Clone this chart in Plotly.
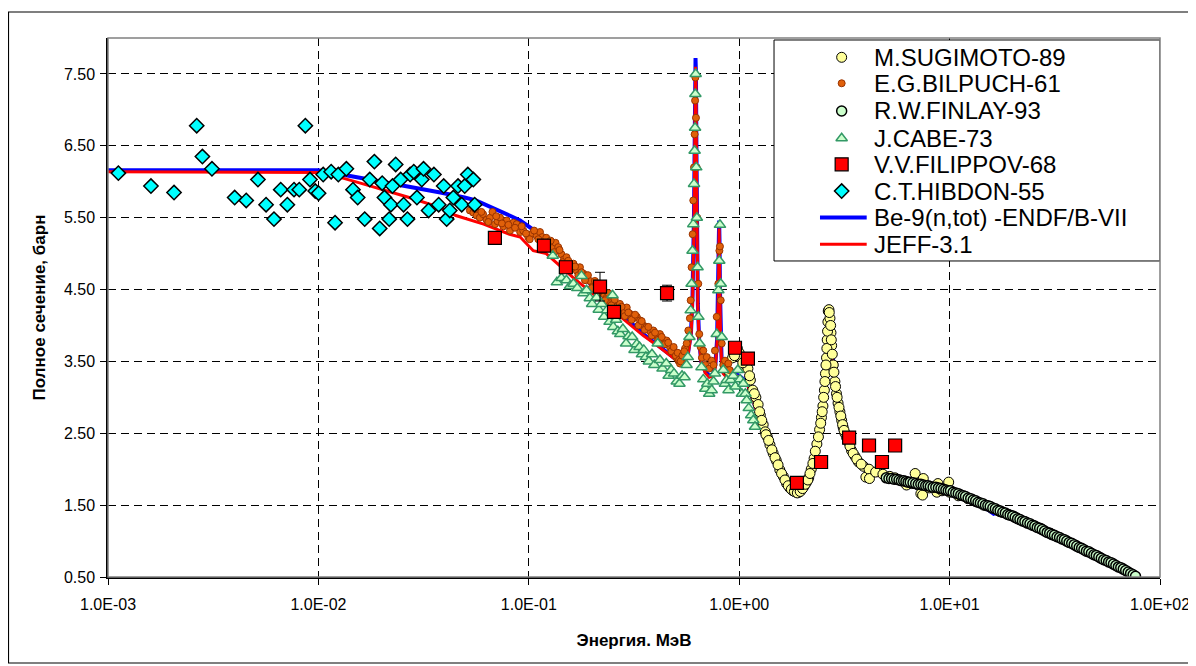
import plotly.graph_objects as go

# ---------------- data ----------------
sug_E = [0.90, 0.93, 0.96, 0.98, 1.00, 1.02, 1.05, 1.08, 1.10, 1.13, 1.16, 1.20, 1.23, 1.26, 1.30,
         1.33, 1.36, 1.40, 1.45, 1.50, 1.56, 1.62, 1.68, 1.74, 1.80, 1.86, 1.92, 1.97, 2.03, 2.09,
         2.14, 2.20, 2.27, 2.34, 2.41, 2.46, 2.50, 2.54, 2.57, 2.60, 2.62, 2.64, 2.65, 2.67, 2.70,
         2.73, 2.75, 2.80, 2.85, 2.90, 2.95, 3.01, 3.07, 3.12, 3.18, 3.30, 3.42, 3.55, 3.69, 3.90,
         4.00, 4.14, 4.16, 4.45, 4.82, 5.2, 5.5, 5.81, 6.2, 6.24, 6.6, 6.86, 7.07, 7.3, 7.44, 7.5,
         8.0, 8.51, 8.7, 8.8, 9.2, 9.9, 10.0, 11.0, 12.2, 13.3, 14.5, 15.8, 17.3, 19.0, 20.9, 22.8,
         24.9, 27.3, 30.0,
         0.95, 1.04, 1.12, 1.18, 1.25, 1.28, 1.34, 1.38, 1.43, 1.48, 1.53, 1.59, 1.65, 1.71, 1.77,
         1.83, 1.89, 1.95, 2.00, 2.06, 2.12, 2.17, 2.24, 2.30, 2.38, 2.44, 2.48, 2.52, 2.555, 2.585,
         2.61, 2.63, 2.68, 2.72, 2.74, 2.77, 2.82, 2.87, 2.92, 2.98, 3.04, 3.10, 3.15, 3.24, 3.36,
         3.48, 3.62, 3.80]
sug_S = [3.35, 3.55, 3.62, 3.68, 3.62, 3.55, 3.42, 3.45, 3.40, 3.24, 3.10, 3.00, 2.90, 2.75, 2.62,
         2.52, 2.45, 2.34, 2.22, 2.12, 1.99, 1.90, 1.80, 1.74, 1.70, 1.68, 1.68, 1.71, 1.76, 1.82,
         1.88, 2.00, 2.15, 2.35, 2.55, 2.72, 2.88, 3.10, 3.33, 3.55, 3.80, 4.05, 4.20, 4.22, 4.10,
         3.90, 3.72, 3.45, 3.22, 3.05, 2.92, 2.80, 2.68, 2.58, 2.50, 2.38, 2.26, 2.18, 2.10, 2.04,
         1.89, 2.00, 1.87, 1.96, 1.93, 1.90, 1.88, 1.85, 1.83, 1.78, 1.80, 1.94, 1.78, 1.66, 1.64, 1.87,
         1.74, 1.73, 1.68, 1.80, 1.70, 1.82, 1.68, 1.63, 1.59, 1.55, 1.50, 1.46, 1.41, 1.37, 1.32, 1.27,
         1.22, 1.17, 1.11,
         3.58, 3.48, 3.30, 3.05, 2.80, 2.68, 2.48, 2.40, 2.27, 2.16, 2.06, 1.94, 1.85, 1.77, 1.72,
         1.69, 1.67, 1.69, 1.73, 1.79, 1.85, 1.94, 2.08, 2.25, 2.45, 2.64, 2.80, 3.00, 3.22, 3.45,
         3.68, 3.92, 4.18, 4.00, 3.80, 3.60, 3.35, 3.15, 3.00, 2.86, 2.74, 2.62, 2.54, 2.44, 2.32,
         2.22, 2.14, 2.07]

bil_E = [0.0525, 0.0545, 0.0565, 0.0585, 0.0606, 0.063, 0.0654, 0.0672, 0.0691, 0.071, 0.0730,
         0.0757, 0.0785, 0.0814, 0.0845, 0.0876, 0.091, 0.0941, 0.0994, 0.104, 0.109, 0.113, 0.116,
         0.119, 0.124, 0.130, 0.134, 0.138, 0.143, 0.147, 0.151, 0.157, 0.163, 0.169, 0.175, 0.182,
         0.188, 0.195, 0.203, 0.210, 0.218, 0.226, 0.235, 0.243, 0.252, 0.261, 0.271, 0.281, 0.292,
         0.303, 0.314, 0.326, 0.338, 0.350, 0.363, 0.377, 0.391, 0.405, 0.420, 0.436, 0.452, 0.469,
         0.482, 0.495, 0.505, 0.514, 0.523, 0.532, 0.542, 0.553, 0.563, 0.573, 0.583, 0.588, 0.594,
         0.601, 0.605, 0.610, 0.614, 0.617, 0.619, 0.623, 0.628, 0.632, 0.639, 0.646, 0.656, 0.665,
         0.675, 0.690, 0.701, 0.720, 0.740, 0.755, 0.767, 0.782, 0.796, 0.805, 0.810, 0.817, 0.826,
         0.840, 0.856, 0.870, 0.888, 0.900,
         0.0555, 0.0595, 0.0642, 0.0700, 0.0745, 0.0800, 0.0860, 0.0925, 0.097, 0.101, 0.106, 0.111,
         0.121, 0.127, 0.132, 0.140, 0.145, 0.154, 0.160, 0.166, 0.172, 0.178, 0.185, 0.191, 0.199,
         0.206, 0.214, 0.222, 0.230, 0.239, 0.247, 0.256, 0.266, 0.276, 0.286, 0.297, 0.308, 0.320,
         0.332, 0.344, 0.356, 0.370, 0.384, 0.398, 0.412, 0.428, 0.444, 0.460, 0.476, 0.488, 0.500,
         0.510, 0.518, 0.527, 0.537, 0.548]
bil_S = [5.60, 5.57, 5.53, 5.50, 5.55, 5.47, 5.50, 5.58, 5.41, 5.45, 5.50,
         5.38, 5.46, 5.32, 5.43, 5.41, 5.30, 5.32, 5.23, 5.28, 5.25, 5.30, 5.23,
         5.16, 5.12, 5.08, 5.15, 5.09, 4.99, 4.92, 4.95, 4.86, 4.86, 4.76, 4.81, 4.72,
         4.66, 4.62, 4.55, 4.58, 4.49, 4.44, 4.39, 4.33, 4.35, 4.26, 4.30, 4.20, 4.25,
         4.16, 4.10, 4.12, 4.07, 4.00, 3.98, 3.92, 3.93, 3.85, 3.88, 3.80, 3.79, 3.70,
         3.66, 3.63, 3.55, 3.51, 3.47, 3.55, 3.61, 3.68, 3.75, 3.93, 4.10, 4.35, 4.81,
         5.27, 5.74, 6.20, 6.66, 7.13, 7.45, 6.89, 6.20, 5.50, 4.58, 3.88, 3.70, 3.55,
         3.65, 3.45, 3.56, 3.40, 3.51, 3.45, 3.65, 4.12, 4.58, 5.04, 5.10, 4.35, 3.75,
         3.45, 3.51, 3.40, 3.47, 3.38,
         5.62, 5.58, 5.44, 5.52, 5.42, 5.40, 5.36, 5.38, 5.28, 5.20, 5.32, 5.20,
         5.22, 5.18, 5.02, 5.05, 4.88, 4.90, 4.80, 4.82, 4.70, 4.74, 4.63, 4.70, 4.52,
         4.62, 4.45, 4.52, 4.35, 4.45, 4.28, 4.36, 4.20, 4.26, 4.13, 4.18, 4.08, 4.15,
         4.00, 4.06, 3.94, 3.98, 3.86, 3.90, 3.80, 3.84, 3.74, 3.76, 3.64, 3.70, 3.58,
         3.62, 3.52, 3.50, 3.58, 3.64]

fin_E = [5.0, 5.15, 5.3, 5.45, 5.6, 5.75, 5.9, 6.05, 6.2, 6.35, 6.5, 6.7, 6.9, 7.1, 7.3, 7.5, 7.7,
         7.9, 8.1, 8.35, 8.6, 8.85, 9.1, 9.35, 9.6, 9.85, 10.1, 10.4, 10.7, 11.0, 11.3, 11.6, 11.9,
         12.25, 12.6, 12.95, 13.3, 13.65, 14.0, 14.4, 14.8, 15.2, 15.6, 16.05, 16.5, 16.95, 17.4,
         17.9, 18.4, 18.9, 19.4, 19.95, 20.5, 21.05, 21.6, 22.2, 22.8, 23.45, 24.1, 24.75, 25.4,
         26.1, 26.8, 27.55, 28.3, 29.1, 29.9, 30.7, 31.5, 32.4, 33.3, 34.2, 35.1, 36.05, 37.0, 38.05,
         39.1, 40.2, 41.3, 42.4, 43.5, 44.7, 45.9, 47.2, 48.5, 49.8, 51.2, 52.6, 54.0, 55.5, 57.0,
         58.5, 60.1, 61.7, 63.4, 65.1, 66.9, 68.7, 70.6, 72.5, 74.5, 76.5]
fin_S = [1.88, 1.87, 1.87, 1.86, 1.86, 1.85, 1.84, 1.84, 1.83, 1.82, 1.82, 1.81, 1.80, 1.79, 1.79,
         1.78, 1.77, 1.77, 1.76, 1.75, 1.75, 1.74, 1.73, 1.72, 1.71, 1.70, 1.70, 1.68, 1.67, 1.66,
         1.64, 1.63, 1.62, 1.60, 1.59, 1.57, 1.56, 1.54, 1.53, 1.52, 1.50, 1.49, 1.48, 1.46, 1.45,
         1.43, 1.42, 1.40, 1.39, 1.37, 1.36, 1.35, 1.33, 1.31, 1.30, 1.28, 1.27, 1.25, 1.24, 1.22,
         1.21, 1.19, 1.18, 1.16, 1.14, 1.12, 1.11, 1.09, 1.08, 1.06, 1.05, 1.03, 1.02, 1.00, 0.98,
         0.97, 0.95, 0.93, 0.91, 0.90, 0.88, 0.86, 0.85, 0.83, 0.81, 0.80, 0.78, 0.76, 0.74, 0.73,
         0.71, 0.70, 0.68, 0.66, 0.64, 0.63, 0.61, 0.59, 0.57, 0.55, 0.53, 0.51]

cab_E = [0.130, 0.136, 0.143, 0.151, 0.157, 0.163, 0.170, 0.178, 0.182, 0.188, 0.195, 0.200, 0.210,
         0.215, 0.222, 0.228, 0.235, 0.242, 0.250, 0.252, 0.260, 0.265, 0.272, 0.280, 0.290, 0.298,
         0.310, 0.318, 0.326, 0.336, 0.345, 0.352, 0.360, 0.372, 0.385, 0.395, 0.410, 0.420, 0.432,
         0.450, 0.462, 0.475, 0.490, 0.505, 0.520, 0.535, 0.550, 0.562, 0.570, 0.580, 0.588, 0.594,
         0.600, 0.605, 0.610, 0.614, 0.617, 0.619, 0.621, 0.625, 0.629, 0.634, 0.640, 0.648, 0.662,
         0.675, 0.690, 0.705, 0.720, 0.740, 0.755, 0.767, 0.782, 0.796, 0.804, 0.810, 0.817, 0.826,
         0.840, 0.855, 0.872, 0.890, 0.910, 0.937, 0.960, 0.985, 1.009, 1.030, 1.046, 1.070, 1.085,
         1.110, 1.140, 1.167, 1.189]
cab_S = [4.97, 4.60, 4.66, 4.63, 4.55, 4.58, 4.52, 4.69, 4.45, 4.49, 4.38, 4.30, 4.39,
         4.22, 4.30, 4.12, 4.21, 4.05, 4.42, 3.98, 4.08, 3.92, 3.88, 3.95, 3.75, 3.85,
         3.84, 3.66, 3.74, 3.70, 3.60, 3.66, 3.56, 3.50, 3.60, 3.45, 3.75, 3.52, 3.40,
         3.47, 3.30, 3.38, 3.33, 3.22, 3.19, 3.30, 3.28, 3.45, 3.56, 3.84, 4.21, 4.58,
         5.04, 5.41, 5.97, 6.43, 6.75, 7.22, 7.50, 6.20, 5.50, 4.81, 4.12, 3.75, 3.42,
         3.25, 3.12, 3.19, 3.05, 3.10, 3.22, 3.33, 3.88, 4.49, 4.90, 5.40, 4.58, 3.84,
         3.38, 3.19, 3.24, 3.10, 3.24, 3.30, 3.15, 3.38, 3.25, 3.05, 3.19, 3.05, 2.96,
         2.85, 2.75, 2.68, 2.59]

fil_E = [0.069, 0.118, 0.150, 0.218, 0.254, 0.454, 0.955, 1.10, 1.88, 2.45, 3.33, 4.14, 4.77, 5.51]
fil_S = [5.22, 5.11, 4.81, 4.54, 4.19, 4.45, 3.69, 3.54, 1.81, 2.10, 2.44, 2.33, 2.10, 2.33]
fil_err = [0.05, 0.05, 0.05, 0.20, 0.05, 0.11, 0.05, 0.05, 0.05, 0.05, 0.08, 0.05, 0.05, 0.05]

hib_E = [0.00112, 0.00160, 0.00206, 0.00264, 0.00281, 0.00312, 0.0040, 0.00454, 0.00516, 0.00564,
         0.00615, 0.00662, 0.00712, 0.00766, 0.00811, 0.00867, 0.00912, 0.00966, 0.01002, 0.01054,
         0.0115, 0.0120, 0.01244, 0.01358, 0.01460, 0.01537, 0.01660, 0.01754, 0.01845, 0.01956,
         0.0201, 0.0206, 0.0217, 0.0221, 0.0225, 0.0233, 0.0246, 0.0254, 0.0265, 0.0273, 0.0284,
         0.0294, 0.0310, 0.0316, 0.0334, 0.0354, 0.0373, 0.0394, 0.0407, 0.0421, 0.0438, 0.0461,
         0.0480, 0.0496, 0.0513, 0.0545, 0.0553]
hib_S = [6.12, 5.94, 5.85, 6.78, 6.35, 6.18, 5.78, 5.74, 6.03, 5.68,
         5.48, 5.89, 5.68, 5.89, 5.89, 6.78, 6.03, 5.87, 5.84, 6.10,
         6.14, 5.43, 6.10, 6.18, 5.89, 5.78, 5.48, 6.03, 6.28, 5.35,
         5.98, 5.78, 5.48, 5.68, 5.94, 6.24, 6.03, 5.68, 5.48, 6.10, 6.14,
         5.78, 6.03, 6.18, 5.60, 6.10, 5.68, 5.94, 5.48, 5.60, 5.78, 5.94,
         5.68, 5.94, 6.10, 6.03, 5.68]

endf_E = [0.001, 0.01, 0.0183, 0.0315, 0.038, 0.0495, 0.056, 0.081, 0.091, 0.109, 0.13, 0.16, 0.2,
          0.25, 0.3, 0.35, 0.4, 0.45, 0.5, 0.54, 0.57, 0.59, 0.60, 0.61, 0.616, 0.62, 0.623, 0.626,
          0.63, 0.636, 0.645, 0.66, 0.69, 0.72, 0.75, 0.77, 0.785, 0.797, 0.803, 0.806, 0.81, 0.815,
          0.825, 0.84, 0.87, 0.92, 0.97, 1.0, 1.05, 1.1, 1.15, 1.2, 1.25, 1.3, 1.4, 1.5, 1.56, 1.7,
          1.8, 1.9, 2.0, 2.1, 2.2, 2.3, 2.4, 2.5, 2.58, 2.63, 2.67, 2.71, 2.76, 2.85, 2.95, 3.1,
          3.3, 3.5, 3.8, 4.2, 4.6, 5.0, 6.0, 7.0, 8.0, 9.0, 10.0, 12.0, 14.0, 15.5, 16.2, 17.0,
          18.0, 19.6]
endf_S = [6.16, 6.16, 6.02, 5.90, 5.85, 5.78, 5.74, 5.53, 5.46, 5.30, 5.10, 4.85, 4.55,
          4.28, 4.05, 3.88, 3.75, 3.63, 3.53, 3.50, 3.60, 3.90, 4.40, 5.60, 6.80, 7.72, 7.50, 6.50,
          5.20, 4.30, 3.80, 3.50, 3.36, 3.30, 3.32, 3.45, 3.80, 4.60, 5.46, 5.20, 4.50, 3.90,
          3.50, 3.35, 3.30, 3.30, 3.32, 3.30, 3.25, 3.18, 3.02, 2.85, 2.63, 2.50, 2.33, 2.12, 2.03, 1.78,
          1.72, 1.68, 1.70, 1.78, 1.95, 2.18, 2.48, 2.85, 3.40, 3.90, 4.20, 4.05, 3.65, 3.15, 2.85, 2.55,
          2.32, 2.17, 2.05, 1.97, 1.92, 1.88, 1.83, 1.79, 1.75, 1.71, 1.68, 1.58, 1.50, 1.42, 1.38, 1.40,
          1.38, 1.33]

jeff_E = [0.001, 0.0105, 0.0163, 0.027, 0.038, 0.045, 0.061, 0.073, 0.081, 0.091, 0.105, 0.121,
          0.162, 0.2, 0.25, 0.3, 0.35, 0.4, 0.45, 0.5, 0.54, 0.57, 0.59, 0.60, 0.61, 0.616, 0.62,
          0.623, 0.626, 0.63, 0.636, 0.645, 0.66, 0.69, 0.72, 0.75, 0.77, 0.785, 0.797, 0.803, 0.806,
          0.81, 0.815, 0.825, 0.84, 0.87, 0.92, 0.97, 1.0, 1.05, 1.1, 1.15, 1.2, 1.25, 1.3, 1.4, 1.5,
          1.56, 1.7, 1.8, 1.9, 2.0, 2.1, 2.2, 2.3, 2.4, 2.5, 2.58, 2.63, 2.67, 2.71, 2.76, 2.85, 2.95,
          3.1, 3.3, 3.5, 3.8, 4.2, 4.6, 5.0, 6.0, 7.0, 8.0, 9.0, 10.0, 12.0, 14.0, 16.0, 18.0, 19.6]
jeff_S = [6.14, 6.13, 5.97, 5.78, 5.64, 5.53, 5.41, 5.32, 5.27, 5.23, 5.04, 5.00,
          4.67, 4.45, 4.22, 4.02, 3.86, 3.74, 3.62, 3.52, 3.48, 3.58, 3.85, 4.30, 5.40, 6.60, 7.60,
          7.40, 6.40, 5.10, 4.25, 3.78, 3.48, 3.34, 3.28, 3.30, 3.42, 3.75, 4.50, 5.35, 5.15,
          4.45, 3.85, 3.48, 3.33, 3.28, 3.28, 3.30, 3.28, 3.23, 3.16, 3.00, 2.84, 2.62, 2.49, 2.32, 2.11,
          2.02, 1.77, 1.71, 1.67, 1.69, 1.77, 1.94, 2.17, 2.47, 2.84, 3.38, 3.88, 4.18, 4.03, 3.63, 3.14,
          2.84, 2.54, 2.31, 2.16, 2.04, 1.96, 1.91, 1.87, 1.82, 1.78, 1.74, 1.70, 1.67, 1.57, 1.49,
          1.43, 1.38, 1.33]

x_ticks = [0.001, 0.01, 0.1, 1, 10, 100]
x_tick_labels = ["1.0E-03", "1.0E-02", "1.0E-01", "1.0E+00", "1.0E+01", "1.0E+02"]
y_ticks = [0.5, 1.5, 2.5, 3.5, 4.5, 5.5, 6.5, 7.5]
y_tick_labels = ["0.50", "1.50", "2.50", "3.50", "4.50", "5.50", "6.50", "7.50"]

legend_names = ["M.SUGIMOTO-89", "E.G.BILPUCH-61", "R.W.FINLAY-93", "J.CABE-73",
                "V.V.FILIPPOV-68", "C.T.HIBDON-55", "Be-9(n,tot) -ENDF/B-VII", "JEFF-3.1"]

FONT = "Liberation Sans, Arial, sans-serif"

# marker styles per series
ST_SUG = dict(symbol="circle", size=10, color="#FFFF99", line=dict(color="#000000", width=1))
ST_BIL = dict(symbol="circle", size=7, color="#E0600A", line=dict(color="#993300", width=1))
ST_FIN = dict(symbol="circle", size=10, color="#CCFFCC", line=dict(color="#000000", width=1.5))
ST_CAB = dict(symbol="triangle-up", size=10, color="#CCFFCC", line=dict(color="#339966", width=1.5))
ST_FIL = dict(symbol="square", size=13, color="#FF0000", line=dict(color="#000000", width=1.2))
ST_HIB = dict(symbol="diamond", size=11, color="#00FFFF", line=dict(color="#000000", width=1.5))
LN_ENDF = dict(color="#0000FF", width=4)
LN_JEFF = dict(color="#FF0000", width=3)

fig = go.Figure()

# evaluated-data lines (beneath the markers)
fig.add_trace(go.Scatter(x=endf_E, y=endf_S, mode="lines", name=legend_names[6], line=LN_ENDF))
fig.add_trace(go.Scatter(x=jeff_E, y=jeff_S, mode="lines", name=legend_names[7], line=LN_JEFF))
# experimental data
fig.add_trace(go.Scatter(x=sug_E, y=sug_S, mode="markers", name=legend_names[0], marker=ST_SUG))
fig.add_trace(go.Scatter(x=bil_E, y=bil_S, mode="markers", name=legend_names[1], marker=ST_BIL))
fig.add_trace(go.Scatter(x=fin_E, y=fin_S, mode="markers", name=legend_names[2], marker=ST_FIN))
fig.add_trace(go.Scatter(x=cab_E, y=cab_S, mode="markers", name=legend_names[3], marker=ST_CAB))
fig.add_trace(go.Scatter(x=fil_E, y=fil_S, mode="markers", name=legend_names[4], marker=ST_FIL,
                         error_y=dict(type="data", array=fil_err, color="#000000",
                                      thickness=1, width=5)))
fig.add_trace(go.Scatter(x=hib_E, y=hib_S, mode="markers", name=legend_names[5], marker=ST_HIB))

# ---------- Excel-style legend box drawn on an overlay axis pair (0..1 = plot area) ----------
LEG_X0, LEG_X1, LEG_Y0, LEG_Y1 = 0.6331, 1.0, 0.5863, 0.9963
LEG_SYM_X, LEG_LINE_X0, LEG_LINE_X1, LEG_TEXT_X = 0.6974, 0.6768, 0.7212, 0.7260
LEG_ROWS = [0.9642, 0.9160, 0.8646, 0.8139, 0.7657, 0.7161, 0.6670, 0.6173]

fig.add_trace(go.Scatter(x=[LEG_X0, LEG_X1, LEG_X1, LEG_X0, LEG_X0],
                         y=[LEG_Y0, LEG_Y0, LEG_Y1, LEG_Y1, LEG_Y0],
                         mode="lines", fill="toself", fillcolor="white",
                         line=dict(color="#000000", width=1),
                         xaxis="x2", yaxis="y2", hoverinfo="skip", showlegend=False))
sym_styles = [ST_SUG, ST_BIL, ST_FIN, ST_CAB, ST_FIL, ST_HIB]
for i, st in enumerate(sym_styles):
    fig.add_trace(go.Scatter(x=[LEG_SYM_X], y=[LEG_ROWS[i]], mode="markers", marker=st,
                             xaxis="x2", yaxis="y2", hoverinfo="skip", showlegend=False))
for i, ln in ((6, LN_ENDF), (7, LN_JEFF)):
    fig.add_trace(go.Scatter(x=[LEG_LINE_X0, LEG_LINE_X1], y=[LEG_ROWS[i], LEG_ROWS[i]],
                             mode="lines", line=ln,
                             xaxis="x2", yaxis="y2", hoverinfo="skip", showlegend=False))
for i, name in enumerate(legend_names):
    fig.add_annotation(xref="paper", yref="paper", x=LEG_TEXT_X, y=LEG_ROWS[i], text=name,
                       showarrow=False, xanchor="left", yanchor="middle",
                       font=dict(family=FONT, size=24, color="#000000"))

# plot-area frame (grey) and outer chart frame
fig.add_shape(type="rect", xref="paper", yref="paper", x0=0, x1=1, y0=0, y1=1,
              line=dict(color="#808080", width=1.5), layer="above")
fig.add_shape(type="rect", xref="paper", yref="paper", x0=-0.0946, x1=1.0314, y0=-0.1596, y1=1.0482,
              line=dict(color="#000000", width=1.2), layer="below")

AX_COMMON = dict(showgrid=True, gridcolor="#000000", gridwidth=1, griddash="8px,5px",
                 showline=True, linecolor="#000000", linewidth=1.5,
                 ticks="outside", ticklen=6, tickcolor="#000000", zeroline=False,
                 tickfont=dict(size=16), automargin=False)

fig.update_layout(
    width=1188, height=658,
    margin=dict(l=100, r=36, t=30, b=89),
    paper_bgcolor="white", plot_bgcolor="white",
    font=dict(family=FONT, size=16, color="#000000"),
    showlegend=False,
    xaxis=dict(type="log", range=[-3, 2], tickvals=x_ticks, ticktext=x_tick_labels,
               ticklabelstandoff=6,
               title=dict(text="<b>Энергия. МэВ</b>", font=dict(size=17), standoff=22),
               **AX_COMMON),
    yaxis=dict(range=[0.5, 8.0], tickvals=y_ticks, ticktext=y_tick_labels,
               ticklabelstandoff=2,
               title=dict(text="<b>Полное сечение, барн</b>", font=dict(size=17), standoff=14),
               **AX_COMMON),
    xaxis2=dict(overlaying="x", range=[0, 1], visible=False, fixedrange=True),
    yaxis2=dict(overlaying="y", range=[0, 1], visible=False, fixedrange=True),
)

fig.write_html("out.html")
